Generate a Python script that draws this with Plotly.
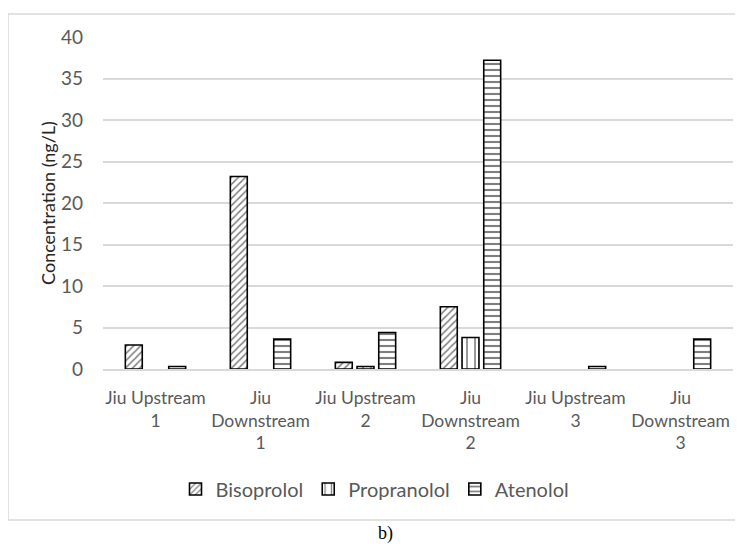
import plotly.graph_objects as go

categories = ["Jiu Upstream<br>1", "Jiu<br>Downstream<br>1", "Jiu Upstream<br>2",
              "Jiu<br>Downstream<br>2", "Jiu Upstream<br>3", "Jiu<br>Downstream<br>3"]
bisoprolol = [2.9, 23.2, 0.8, 7.5, None, None]
propranolol = [None, None, 0.3, 3.8, None, None]
atenolol = [0.3, 3.6, 4.4, 37.2, 0.3, 3.6]
y_ticks = [0, 5, 10, 15, 20, 25, 30, 35, 40]

FONT = "Lato"
fig = go.Figure()
series = [("Bisoprolol", bisoprolol, "/", 5, 0.3),
          ("Propranolol", propranolol, "|", 8, 0.2),
          ("Atenolol", atenolol, "-", 6, 0.35)]
for name, vals, shape, size, sol in series:
    fig.add_trace(go.Bar(
        x=categories, y=vals, name=name,
        marker=dict(color="white", line=dict(color="black", width=1.6),
                    pattern=dict(shape=shape, fgcolor="black", bgcolor="white",
                                 size=size, solidity=sol, fillmode="overlay")),
    ))

# page has an 8px body margin: reference pixel (X, Y) -> figure pixel (X-8, Y-8)
OFF = 8
W, H = 743 - OFF, 548 - OFF
L, R, T, B = 103 - OFF, 10, 37 - OFF, 548 - 369
pw = W - L - R
ph = H - T - B
def px(x): return (x - OFF - L) / pw
def py(y): return (H - B - (y - OFF)) / ph

fig.update_layout(
    width=W, height=H,
    margin=dict(l=L, r=R, t=T, b=B),
    paper_bgcolor="white", plot_bgcolor="white",
    barmode="group", bargap=0.38, bargroupgap=0.22,
    font=dict(family=FONT, color="#595959"),
    showlegend=True,
    legend=dict(orientation="h", x=px(375), xanchor="center", y=py(489), yanchor="middle",
                font=dict(size=20, color="#595959"), itemwidth=30, traceorder="normal"),
    xaxis=dict(tickfont=dict(size=17.5, color="#595959"), showline=True, linecolor="#d9d9d9",
               linewidth=1.5, ticks="", ticklabelstandoff=12),
    yaxis=dict(range=[0, 40], tickvals=y_ticks, tickfont=dict(size=19, color="#595959"),
               showgrid=True, gridcolor="#d9d9d9", gridwidth=1.5, zeroline=False,
               ticks="", ticklabelstandoff=19,
               title=dict(text="Concentration (ng/L)", font=dict(size=18, color="#262626"), standoff=0)),
    shapes=[dict(type="rect", xref="paper", yref="paper", x0=px(8), x1=px(760), y0=py(520), y1=py(14),
                 line=dict(color="#d9d9d9", width=1.5), layer="below")],
    annotations=[dict(text="b)", xref="paper", yref="paper", x=px(385), y=py(533), showarrow=False,
                      font=dict(family="Liberation Serif", size=18, color="black"),
                      xanchor="center", yanchor="middle")],
)

fig.write_html("out.html")
